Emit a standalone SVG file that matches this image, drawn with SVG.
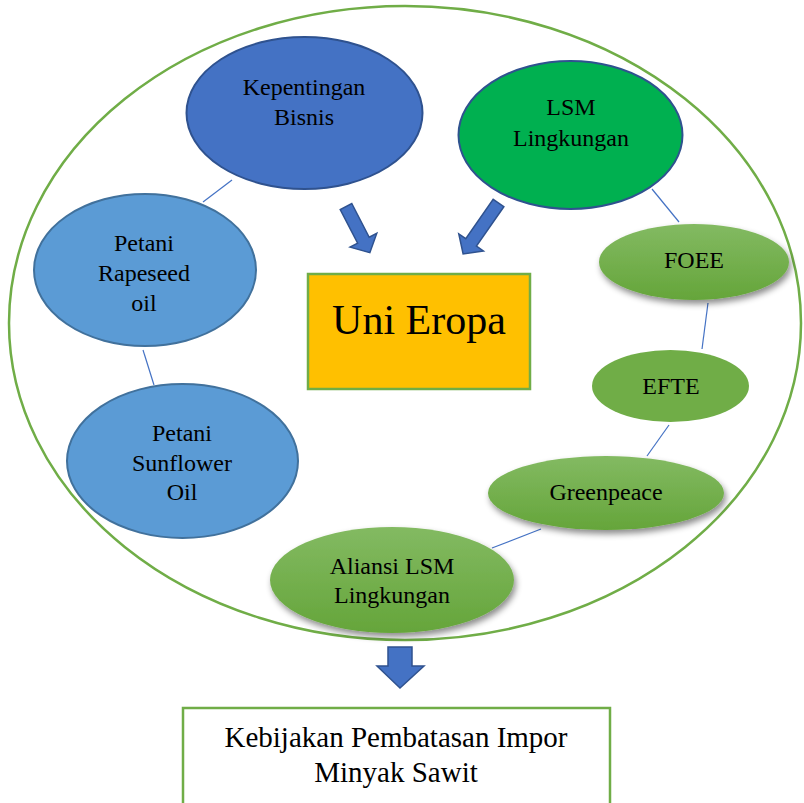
<svg xmlns="http://www.w3.org/2000/svg" width="804" height="803" viewBox="0 0 804 803" font-family="'Times New Roman', 'Liberation Serif', Tinos, serif">
<defs>
<linearGradient id="gg" x1="0" y1="0" x2="0" y2="1">
<stop offset="0" stop-color="#83BA62"/>
<stop offset="1" stop-color="#65A53A"/>
</linearGradient>
<filter id="sh" x="-20%" y="-20%" width="140%" height="160%">
<feDropShadow dx="2" dy="4" stdDeviation="3" flood-color="#000" flood-opacity="0.45"/>
</filter>
</defs>
<style>
text{font-family:'Times New Roman','Liberation Serif',Tinos,serif;fill:#000;text-anchor:middle}
.t{font-size:24px}
.blue{fill:#4472C4;stroke:#2F528F;stroke-width:2}
.lblue{fill:#5B9BD5;stroke:#41719C;stroke-width:2}
.grn{fill:#00B050;stroke:#2F528F;stroke-width:2}
.gg{fill:url(#gg);filter:url(#sh)}
.con line{stroke:#4472C4;stroke-width:1.2}
.ba{fill:#4472C4;stroke:#2F528F;stroke-width:1.5}
</style>
<rect width="804" height="803" fill="#fff"/>
<g id="frame"><ellipse cx="405" cy="323" rx="396" ry="317" fill="none" stroke="#70AD47" stroke-width="2.5"/></g>
<g class="con" id="connectors">
<line x1="232" y1="180" x2="203" y2="202"/>
<line x1="143" y1="350" x2="154" y2="385"/>
<line x1="652" y1="189" x2="679" y2="222"/>
<line x1="708" y1="303" x2="702" y2="349"/>
<line x1="669" y1="425" x2="647" y2="456"/>
<line x1="541" y1="529" x2="492" y2="548"/>
</g>
<g id="arrows">
<polygon class="ba" transform="translate(346,206.5) rotate(62.7)" points="0,-6.5 38,-6.5 38,-15 52,0 38,15 38,6.5 0,6.5"/>
<polygon class="ba" transform="translate(498.5,203) rotate(124.8)" points="0,-6.5 48,-6.5 48,-15 62,0 48,15 48,6.5 0,6.5"/>
<polygon class="ba" points="388,647 412,647 412,666 424,666 400,688 377,666 388,666"/>
</g>
<g id="kepentingan">
<ellipse class="blue" cx="304.5" cy="113" rx="118" ry="76"/>
<text class="t" x="304" y="95">Kepentingan</text>
<text class="t" x="304" y="125">Bisnis</text>
</g>
<g id="lsm">
<ellipse class="grn" cx="570.5" cy="135" rx="112" ry="74"/>
<text class="t" x="571" y="115">LSM</text>
<text class="t" x="571" y="146">Lingkungan</text>
</g>
<g id="rapeseed">
<ellipse class="lblue" cx="145" cy="270" rx="111" ry="76"/>
<text class="t" x="144" y="251">Petani</text>
<text class="t" x="144" y="281">Rapeseed</text>
<text class="t" x="144" y="311">oil</text>
</g>
<g id="sunflower">
<ellipse class="lblue" cx="182.5" cy="461" rx="115.5" ry="77"/>
<text class="t" x="182" y="441">Petani</text>
<text class="t" x="182" y="471">Sunflower</text>
<text class="t" x="182" y="500">Oil</text>
</g>
<g id="unieropa">
<rect x="308" y="274" width="222" height="115" fill="#FFC000" stroke="#70AD47" stroke-width="2.5"/>
<text x="419" y="334" font-size="42">Uni Eropa</text>
</g>
<g id="foee">
<ellipse class="gg" cx="694" cy="262" rx="95" ry="38"/>
<text class="t" x="694" y="268">FOEE</text>
</g>
<g id="efte">
<ellipse cx="670.5" cy="386" rx="78.5" ry="36" fill="#70AD47"/>
<text class="t" x="671" y="394">EFTE</text>
</g>
<g id="greenpeace">
<ellipse class="gg" cx="606" cy="493" rx="118" ry="37"/>
<text class="t" x="606" y="500">Greenpeace</text>
</g>
<g id="aliansi">
<ellipse class="gg" cx="392" cy="580" rx="122" ry="53"/>
<text class="t" x="392" y="574">Aliansi LSM</text>
<text class="t" x="392" y="603">Lingkungan</text>
</g>
<g id="kebijakan">
<rect x="183" y="708" width="427" height="100" fill="#fff" stroke="#70AD47" stroke-width="2.5"/>
<text x="396" y="747" font-size="29">Kebijakan Pembatasan Impor</text>
<text x="396" y="782" font-size="29">Minyak Sawit</text>
</g>
</svg>
